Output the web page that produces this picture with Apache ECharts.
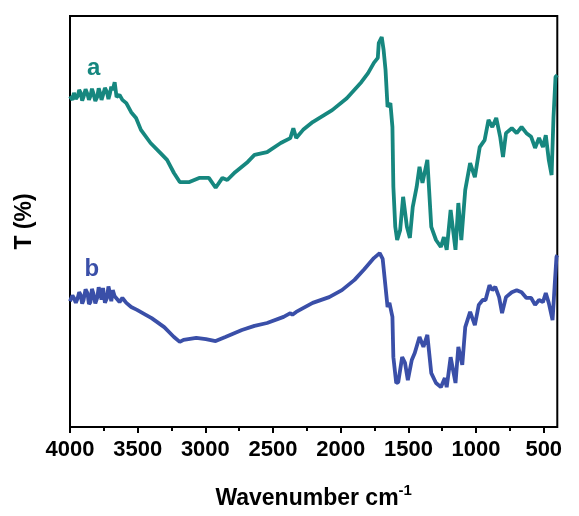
<!DOCTYPE html>
<html>
<head>
<meta charset="utf-8">
<script src="https://cdn.jsdelivr.net/npm/echarts@6/dist/echarts.min.js"></script>
<style>
  html, body { margin: 0; padding: 0; background: #fff; }
  #main { width: 579px; height: 516px; }
</style>
</head>
<body>
<div id="main"></div>
<script>
// spectrum a (wavenumber, T in arbitrary %)
const waveA = [4000, 3993, 3982, 3971, 3957, 3943, 3932, 3921, 3910, 3900, 3885, 3871, 3860, 3849, 3838, 3828, 3813, 3799, 3788, 3778, 3767, 3756, 3742, 3727, 3716, 3706, 3695, 3684, 3670, 3656, 3634, 3613, 3584, 3548, 3512, 3476, 3405, 3333, 3283, 3232, 3189, 3118, 3046, 2974, 2924, 2874, 2838, 2780, 2687, 2637, 2544, 2443, 2372, 2350, 2329, 2278, 2207, 2063, 1955, 1848, 1798, 1755, 1726, 1719, 1697, 1683, 1669, 1654, 1633, 1618, 1611, 1597, 1583, 1561, 1539, 1511, 1489, 1468, 1439, 1418, 1396, 1360, 1331, 1296, 1260, 1238, 1217, 1188, 1152, 1131, 1109, 1080, 1044, 1009, 973, 937, 908, 880, 851, 822, 801, 779, 736, 700, 664, 628, 593, 564, 535, 506, 485, 463, 442, 428, 413, 400];
const transA = [80.5, 80.8, 79.6, 81.3, 79.8, 80.5, 82.0, 81.3, 79.4, 80.3, 82.2, 81.0, 79.6, 80.5, 82.3, 81.3, 79.3, 80.3, 82.4, 81.3, 79.6, 80.8, 82.5, 81.5, 79.8, 81.0, 82.8, 82.0, 83.9, 80.3, 80.8, 79.6, 78.8, 76.6, 75.2, 72.3, 69.1, 66.7, 65.0, 61.8, 59.6, 59.6, 60.6, 60.6, 58.2, 60.6, 60.1, 62.0, 64.5, 66.2, 66.9, 69.1, 70.3, 72.7, 70.3, 72.3, 74.2, 77.1, 80.0, 83.9, 86.1, 88.6, 89.8, 93.4, 94.9, 91.7, 86.9, 77.9, 78.8, 73.0, 58.4, 48.7, 45.5, 47.9, 56.0, 48.7, 46.0, 53.5, 58.4, 63.3, 59.4, 65.0, 48.7, 45.5, 43.8, 46.2, 43.1, 52.8, 43.1, 54.5, 45.5, 57.7, 64.2, 60.8, 68.1, 69.8, 74.7, 73.0, 75.2, 70.6, 65.7, 71.5, 72.7, 71.5, 73.0, 71.5, 70.6, 67.9, 70.3, 68.1, 71.0, 65.0, 61.3, 75.4, 85.2, 85.6];

// spectrum b
const waveB = [4000, 3993, 3982, 3971, 3957, 3943, 3932, 3921, 3910, 3900, 3885, 3871, 3860, 3849, 3838, 3828, 3813, 3799, 3788, 3778, 3767, 3756, 3742, 3727, 3716, 3706, 3695, 3684, 3670, 3656, 3634, 3613, 3584, 3548, 3505, 3440, 3397, 3304, 3232, 3189, 3161, 3067, 2996, 2924, 2852, 2730, 2637, 2544, 2422, 2372, 2357, 2329, 2207, 2085, 1991, 1898, 1826, 1755, 1712, 1690, 1669, 1654, 1640, 1618, 1611, 1590, 1575, 1546, 1525, 1504, 1475, 1453, 1418, 1389, 1360, 1331, 1296, 1260, 1231, 1217, 1188, 1152, 1131, 1102, 1080, 1044, 1009, 980, 951, 930, 901, 880, 858, 830, 808, 779, 736, 700, 664, 628, 593, 564, 535, 506, 485, 463, 435, 420, 406, 400];
const transB = [30.6, 30.9, 32.0, 31.4, 30.2, 31.4, 32.8, 32.1, 30.0, 30.9, 33.5, 32.6, 29.9, 30.4, 33.6, 32.6, 30.1, 31.4, 34.0, 32.8, 31.0, 33.8, 30.2, 31.4, 34.2, 32.8, 30.6, 33.3, 31.8, 32.1, 30.4, 31.4, 30.2, 29.2, 28.5, 27.3, 26.5, 24.3, 21.9, 20.7, 21.2, 21.7, 21.4, 20.9, 21.9, 23.6, 24.6, 25.3, 26.8, 27.7, 27.3, 28.0, 30.2, 31.6, 33.3, 35.8, 38.4, 41.1, 42.3, 40.9, 34.1, 29.2, 30.2, 26.8, 17.0, 10.7, 10.9, 17.0, 15.6, 11.4, 16.3, 18.0, 21.9, 19.5, 22.4, 13.1, 10.7, 9.7, 11.9, 9.7, 17.0, 10.7, 19.5, 15.1, 24.3, 28.0, 24.8, 29.7, 30.9, 30.9, 34.5, 33.3, 34.1, 31.6, 27.7, 31.6, 32.8, 33.3, 32.8, 31.4, 31.4, 29.7, 30.9, 30.4, 32.6, 30.2, 26.0, 34.1, 41.4, 41.8];

const majorTicks = [500, 1000, 1500, 2000, 2500, 3000, 3500, 4000];
const minorTicks = [750, 1250, 1750, 2250, 2750, 3250, 3750];

const curveNames = ['a', 'b'];
const curveColors = ['#16877f', '#3a4fa8'];
const curveLabelAt = [[3821, 87.1], [3835, 38.2]];

const chart = echarts.init(document.getElementById('main'));

const zip = (xs, ys) => xs.map((x, i) => [x, ys[i]]);

const font = 'Liberation Sans, Arial, sans-serif';

chart.setOption({
    animation: false,
    grid: {
        left: 70, right: 7, top: 16, bottom: 89,
        show: true, borderColor: '#000', borderWidth: 2, backgroundColor: 'transparent'
    },
    xAxis: [{
        type: 'value', min: 400, max: 4000, inverse: true,
        axisLine: { show: false },
        splitLine: { show: false },
        axisTick: { show: true, customValues: majorTicks, length: 6, lineStyle: { color: '#000', width: 2 } },
        axisLabel: {
            customValues: majorTicks, formatter: v => String(v),
            color: '#000', fontSize: 22, fontWeight: 'bold', fontFamily: font, margin: 12
        },
        name: '{t|Wavenumber cm}{s|-1}',
        nameLocation: 'middle',
        nameGap: 56,
        nameTextStyle: {
            rich: {
                t: { fontSize: 23, fontWeight: 'bold', fontFamily: font, color: '#000', verticalAlign: 'bottom' },
                s: { fontSize: 15, fontWeight: 'bold', fontFamily: font, color: '#000', verticalAlign: 'top', padding: [0, 0, 12, 0] }
            }
        }
    }, {
        type: 'value', min: 400, max: 4000, inverse: true, position: 'bottom',
        axisLine: { show: false },
        splitLine: { show: false },
        axisLabel: { show: false },
        axisTick: { show: true, customValues: minorTicks, length: 4, lineStyle: { color: '#000', width: 2 } }
    }],
    yAxis: {
        type: 'value', min: 0, max: 100,
        axisLine: { show: false },
        axisTick: { show: false },
        axisLabel: { show: false },
        splitLine: { show: false },
        name: 'T (%)',
        nameLocation: 'middle',
        nameRotate: 90,
        nameGap: 34,
        nameTextStyle: { fontSize: 23, fontWeight: 'bold', fontFamily: font, color: '#000' }
    },
    series: [
        {
            name: 'a', type: 'line', data: zip(waveA, transA), showSymbol: false,
            lineStyle: { color: curveColors[0], width: 3.8 }, z: 3
        },
        {
            name: 'b', type: 'line', data: zip(waveB, transB), showSymbol: false,
            lineStyle: { color: curveColors[1], width: 3.8 }, z: 3
        },
        {
            type: 'scatter', symbolSize: 1, silent: true,
            itemStyle: { opacity: 0 },
            data: curveLabelAt.map((p, i) => ({
                value: p,
                label: {
                    show: true, position: [0, 0], align: 'center', verticalAlign: 'middle',
                    formatter: curveNames[i], opacity: 1, textBorderWidth: 0,
                    color: curveColors[i], fontSize: 24, fontWeight: 'bold', fontFamily: font
                }
            }))
        }
    ]
});
</script>
</body>
</html>
